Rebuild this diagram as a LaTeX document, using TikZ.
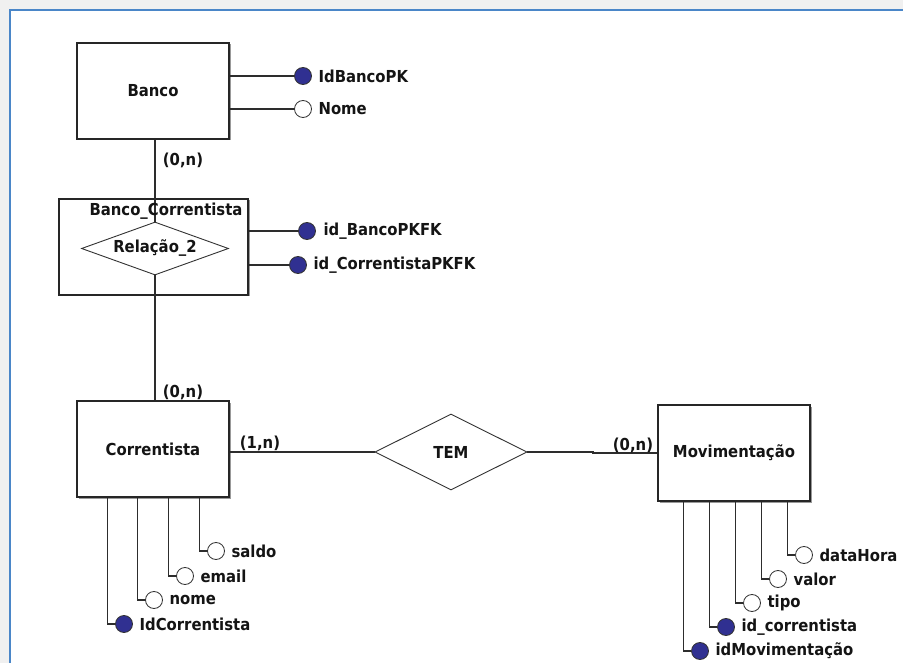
\documentclass[tikz,border=0pt]{standalone}
\usepackage{fontspec}
\setmainfont{DejaVu Sans}[FakeStretch=0.9]
\usetikzlibrary{shapes.geometric,shadows}
\definecolor{bgray}{RGB}{240,240,240}
\definecolor{frameblue}{RGB}{74,134,200}
\definecolor{pkblue}{RGB}{48,48,145}
\definecolor{ln}{RGB}{45,45,45}
\begin{document}
\begin{tikzpicture}[x=1pt,y=-1pt,
  every node/.style={font=\fontsize{16.5}{18}\selectfont\bfseries, text=black!92},
  entity/.style={draw=black!85, line width=1.3pt, fill=white, minimum width=152pt, minimum height=96pt, inner sep=0,
    drop shadow={shadow xshift=1.5pt, shadow yshift=-1.5pt, fill=gray!80, opacity=1}},
  rel/.style={diamond, draw=black!80, line width=0.9pt, fill=white, inner sep=0},
  conn/.style={draw=ln, line width=1.2pt},
  pk/.style={circle, draw=black!80, line width=0.8pt, fill=pkblue, minimum size=17pt, inner sep=0},
  att/.style={circle, draw=black!80, line width=0.8pt, fill=white, minimum size=17pt, inner sep=0},
  lbl/.style={anchor=west, inner sep=0},
  card/.style={inner sep=0}]
\fill[bgray] (0,0) rectangle (903,663);
\useasboundingbox (0,0) rectangle (903,663);
\fill[white] (10,10) rectangle (903,663);
\draw[frameblue, line width=2pt] (10,663) -- (10,10) -- (903,10);

% entities
\node[entity] (Banco) at (153,91) {Banco};
\node[entity, minimum width=189pt] (BC) at (153.5,247) {};
\node[rel, shape aspect=2.8, minimum width=147pt, minimum height=53pt] (R2) at (155,248.5) {Relação\_2};
\node[entity] (Corr) at (153,449) {Correntista};
\node[entity] (Mov) at (734,453) {Movimentação};
\node[rel, shape aspect=2, minimum width=152pt, minimum height=76pt] (TEM) at (451,452) {TEM};

% Banco -- relation -- Correntista
\draw[conn] (Banco.south -| R2.north) -- (R2.north);
\draw[conn] (R2.south) -- (R2.south |- Corr.north);
\node[inner sep=0] (BCl) at (166,211) {Banco\_Correntista};
\node[card] (c1) at (183,160) {(0,n)};
\node[card] (c2) at (183,392) {(0,n)};

% Correntista -- TEM -- Movimentacao
\coordinate (jog) at (593,452);
\draw[conn] (Corr.east |- TEM.west) -- (TEM.west);
\draw[conn] (TEM.east) -- (jog) -- (jog |- Mov.west) -- (Mov.west);
\node[card] (c3) at (260,443) {(1,n)};
\node[card] (c4) at (633,445) {(0,n)};

% Banco attributes
\node[pk] (bid) at (303,76) {};
\node[lbl] (bidl) at ([xshift=6.5pt]bid.east) {IdBancoPK};
\node[att] (bnome) at (303,109) {};
\node[lbl] (bnomel) at ([xshift=6.5pt]bnome.east) {Nome};
\draw[conn] (Banco.east |- bid) -- (bid);
\draw[conn] (Banco.east |- bnome) -- (bnome);

% Banco_Correntista attributes
\node[pk] (bcb) at (307,231) {};
\node[lbl] (bcbl) at ([xshift=7.5pt]bcb.east) {id\_BancoPKFK};
\node[pk] (bcc) at (298,265) {};
\node[lbl] (bccl) at ([xshift=6.5pt]bcc.east) {id\_CorrentistaPKFK};
\draw[conn] (BC.east |- bcb) -- (bcb);
\draw[conn] (BC.east |- bcc) -- (bcc);

% Correntista attributes
\node[att] (csal) at (216,551) {};
\node[lbl] (csall) at ([xshift=6.5pt]csal.east) {saldo};
\node[att] (cem) at (185,576) {};
\node[lbl] (ceml) at ([xshift=6.5pt]cem.east) {email};
\node[att] (cno) at (154,600) {};
\node[lbl] (cnol) at ([xshift=6.5pt]cno.east) {nome};
\node[pk] (cid) at (124,624) {};
\node[lbl] (cidl) at ([xshift=6.5pt]cid.east) {IdCorrentista};
\foreach \a in {csal,cem,cno,cid}
  \draw[conn] ([xshift=-7.5pt]\a.west |- Corr.south) |- (\a.west);

% Movimentacao attributes
\node[att] (mdh) at (804,555) {};
\node[lbl] (mdhl) at ([xshift=6.5pt]mdh.east) {dataHora};
\node[att] (mva) at (778,579) {};
\node[lbl] (mval) at ([xshift=6.5pt]mva.east) {valor};
\node[att] (mti) at (752,603) {};
\node[lbl] (mtil) at ([xshift=6.5pt]mti.east) {tipo};
\node[pk] (mic) at (726,627) {};
\node[lbl] (micl) at ([xshift=6.5pt]mic.east) {id\_correntista};
\node[pk] (mid) at (700,651) {};
\node[lbl] (midl) at ([xshift=6.5pt]mid.east) {idMovimentação};
\foreach \a in {mdh,mva,mti,mic,mid}
  \draw[conn] ([xshift=-7.5pt]\a.west |- Mov.south) |- (\a.west);
\end{tikzpicture}
\end{document}
